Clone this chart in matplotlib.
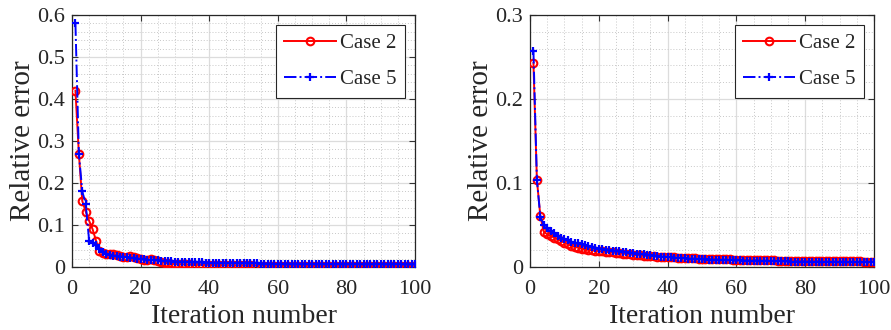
import matplotlib
matplotlib.use("Agg")
import matplotlib.pyplot as plt
from matplotlib.ticker import MultipleLocator

plt.rcParams['font.family'] = ['Liberation Serif', 'DejaVu Serif']
plt.rcParams['mathtext.fontset'] = 'stix'

iterations = list(range(1, 101))

left_case2 = [0.420, 0.270, 0.157, 0.132, 0.110, 0.090, 0.063, 0.038, 0.034, 0.032,
              0.031, 0.030, 0.029, 0.027, 0.025, 0.024, 0.026, 0.025, 0.022, 0.019,
              0.017, 0.016, 0.018, 0.017, 0.015, 0.012, 0.010, 0.009, 0.008, 0.007,
              0.0068, 0.0065, 0.0062, 0.0060, 0.0058, 0.0056, 0.0054, 0.0052, 0.0050, 0.0049,
              0.0047, 0.0046, 0.0045, 0.0044, 0.0043, 0.0042, 0.0041, 0.0040, 0.0039, 0.0038,
              0.0037, 0.0036, 0.0035, 0.0035, 0.0034, 0.0033, 0.0033, 0.0032, 0.0032, 0.0031,
              0.0031, 0.0030, 0.0030, 0.0029, 0.0029, 0.0028, 0.0028, 0.0028, 0.0027, 0.0027,
              0.0027, 0.0026, 0.0026, 0.0026, 0.0025, 0.0025, 0.0025, 0.0025, 0.0024, 0.0024,
              0.0024, 0.0024, 0.0023, 0.0023, 0.0023, 0.0023, 0.0022, 0.0022, 0.0022, 0.0022,
              0.0022, 0.0021, 0.0021, 0.0021, 0.0021, 0.0021, 0.0020, 0.0020, 0.0020, 0.0020]

left_case5 = [0.580, 0.270, 0.180, 0.150, 0.062, 0.058, 0.052, 0.042, 0.036, 0.032,
              0.029, 0.027, 0.026, 0.025, 0.024, 0.023, 0.022, 0.021, 0.020, 0.019,
              0.018, 0.017, 0.0165, 0.016, 0.0155, 0.015, 0.0145, 0.014, 0.0135, 0.013,
              0.0127, 0.0124, 0.0121, 0.0118, 0.0115, 0.0112, 0.0110, 0.0108, 0.0106, 0.0104,
              0.0102, 0.0100, 0.0098, 0.0096, 0.0094, 0.0093, 0.0092, 0.0090, 0.0089, 0.0088,
              0.0087, 0.0086, 0.0085, 0.0084, 0.0083, 0.0082, 0.0081, 0.0080, 0.0079, 0.0078,
              0.0077, 0.0077, 0.0076, 0.0075, 0.0075, 0.0074, 0.0073, 0.0073, 0.0072, 0.0072,
              0.0071, 0.0071, 0.0070, 0.0070, 0.0069, 0.0069, 0.0068, 0.0068, 0.0068, 0.0067,
              0.0067, 0.0066, 0.0066, 0.0066, 0.0065, 0.0065, 0.0065, 0.0064, 0.0064, 0.0064,
              0.0063, 0.0063, 0.0063, 0.0062, 0.0062, 0.0062, 0.0062, 0.0061, 0.0061, 0.0061]

right_case2 = [0.243, 0.104, 0.061, 0.042, 0.039, 0.037, 0.035, 0.033, 0.031, 0.029,
               0.027, 0.025, 0.024, 0.023, 0.022, 0.021, 0.0205, 0.0200, 0.0195, 0.0190,
               0.0185, 0.0180, 0.0178, 0.0175, 0.0170, 0.0165, 0.0160, 0.0155, 0.0150, 0.0145,
               0.0140, 0.0137, 0.0134, 0.0131, 0.0128, 0.0126, 0.0124, 0.0122, 0.0120, 0.0118,
               0.0116, 0.0114, 0.0112, 0.0110, 0.0108, 0.0106, 0.0104, 0.0102, 0.0100, 0.0099,
               0.0098, 0.0096, 0.0095, 0.0094, 0.0093, 0.0092, 0.0091, 0.0090, 0.0089, 0.0088,
               0.0087, 0.0086, 0.0085, 0.0084, 0.0083, 0.0082, 0.0081, 0.0080, 0.0079, 0.0078,
               0.0078, 0.0077, 0.0076, 0.0076, 0.0075, 0.0074, 0.0074, 0.0073, 0.0073, 0.0072,
               0.0072, 0.0071, 0.0071, 0.0070, 0.0070, 0.0069, 0.0069, 0.0068, 0.0068, 0.0068,
               0.0067, 0.0067, 0.0067, 0.0066, 0.0066, 0.0066, 0.0065, 0.0065, 0.0065, 0.0065]

right_case5 = [0.257, 0.104, 0.060, 0.050, 0.046, 0.043, 0.040, 0.037, 0.035, 0.033,
               0.032, 0.030, 0.029, 0.028, 0.027, 0.026, 0.025, 0.024, 0.023, 0.022,
               0.0210, 0.0205, 0.0200, 0.0195, 0.0190, 0.0185, 0.0180, 0.0175, 0.0170, 0.0165,
               0.0160, 0.0155, 0.0150, 0.0145, 0.0140, 0.0135, 0.0130, 0.0125, 0.0120, 0.0117,
               0.0114, 0.0111, 0.0108, 0.0105, 0.0102, 0.0100, 0.0098, 0.0096, 0.0094, 0.0092,
               0.0090, 0.0088, 0.0086, 0.0085, 0.0084, 0.0083, 0.0082, 0.0081, 0.0080, 0.0079,
               0.0078, 0.0077, 0.0076, 0.0075, 0.0074, 0.0073, 0.0072, 0.0071, 0.0070, 0.0069,
               0.0068, 0.0068, 0.0067, 0.0066, 0.0066, 0.0065, 0.0064, 0.0064, 0.0063, 0.0063,
               0.0062, 0.0062, 0.0061, 0.0061, 0.0060, 0.0060, 0.0059, 0.0059, 0.0058, 0.0058,
               0.0058, 0.0057, 0.0057, 0.0057, 0.0056, 0.0056, 0.0056, 0.0055, 0.0055, 0.0055]

x_ticks = [0, 20, 40, 60, 80, 100]
left_yticks = [0, 0.1, 0.2, 0.3, 0.4, 0.5, 0.6]
right_yticks = [0, 0.1, 0.2, 0.3]
legend_labels = ['Case 2', 'Case 5']

W, H = 891, 330
fig = plt.figure(figsize=(W / 100, H / 100), dpi=100)

def make_axes(rect, c2, c5, yticks, ymax, yminor):
    ax = fig.add_axes(rect)
    ax.plot(iterations, c2, '-', color='red', marker='o', mfc='none', mec='red',
            ms=5.5, mew=1.5, lw=1.4, label=legend_labels[0], zorder=3)
    ax.plot(iterations, c5, '-.', color='blue', marker='+', ms=6, mew=1.6, lw=1.4,
            label=legend_labels[1], zorder=4)
    ax.set_xlim(0, 100)
    ax.set_ylim(0, ymax)
    ax.set_xticks(x_ticks)
    ax.set_yticks(yticks)
    ax.set_yticklabels([('%g' % v) for v in yticks])
    ax.xaxis.set_minor_locator(MultipleLocator(5))
    ax.yaxis.set_minor_locator(MultipleLocator(yminor))
    ax.grid(which='major', color='#dcdcdc', lw=0.9, ls='-')
    ax.grid(which='minor', color='#c8c8c8', lw=0.7, ls=(0, (1, 2)))
    ax.set_axisbelow(True)
    ax.tick_params(which='both', direction='in', top=True, right=True,
                   labelsize=16, color='#333333', labelcolor='#262626')
    ax.tick_params(which='minor', length=0)
    ax.tick_params(which='major', length=4, width=0.8)
    ax.tick_params(axis='x', which='major', pad=9)
    ax.tick_params(axis='y', which='major', pad=5)
    for s in ax.spines.values():
        s.set_color('#262626')
        s.set_linewidth(0.9)
    ax.set_xlabel('Iteration number', fontsize=20, labelpad=4, color='#262626')
    ax.set_ylabel('Relative error', fontsize=21, labelpad=1, color='#262626')
    leg = ax.legend(loc='upper right', fontsize=15, frameon=True, fancybox=False,
                    edgecolor='#262626', framealpha=1, borderpad=0.4,
                    handlelength=2.5, handletextpad=0.2, labelspacing=0.8,
                    borderaxespad=0, bbox_to_anchor=(1 - 10 / rect[2] / W, 1 - 10 / rect[3] / H))
    leg.get_frame().set_linewidth(0.8)
    for t in leg.get_texts():
        t.set_color('#262626')
    return ax

make_axes([72 / W, 63 / H, 343 / W, 252 / H], left_case2, left_case5,
          left_yticks, 0.6, 0.02)
make_axes([530 / W, 63 / H, 344 / W, 252 / H], right_case2, right_case5,
          right_yticks, 0.3, 0.02)

fig.savefig('out.png', dpi=100)
